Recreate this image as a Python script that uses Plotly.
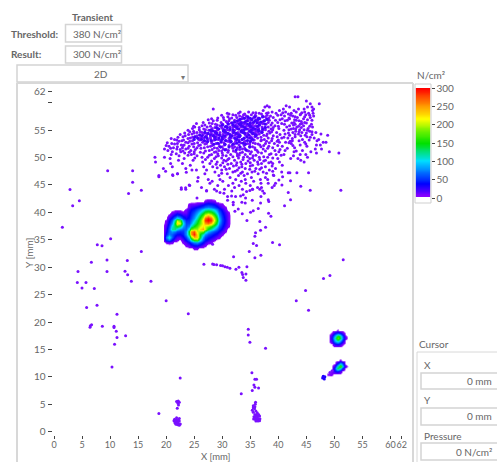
import plotly.graph_objects as go

# ---------- data (mm, N/cm2) ----------
tick_x = [0, 5, 10, 15, 20, 25, 30, 35, 40, 45, 50, 55, 60, 62]
tick_y_vals = [0, 5, 10, 15, 20, 25, 30, 35, 40, 45, 50, 55, 60, 62]
tick_y_text = ["0", "5", "10", "15", "20", "25", "30", "35", "40", "45", "50", "55", "", "62"]
bar_ticks = [0, 50, 100, 150, 200, 250, 300]
bar_levels = [6, 10, 20, 30, 40, 50, 60, 70, 80, 90, 100, 110, 120, 130, 140, 150, 160, 170, 180, 190, 200, 210, 220, 230, 240, 250, 260, 270, 280, 290, 300]

main_x = [19.5, 20, 20.5, 21, 21.5, 22, 22.5, 23, 23.5, 24, 24.5, 25, 25.5, 26, 26.5, 27, 27.5, 28, 28.5, 29, 29.5, 30, 30.5, 31, 31.5, 32]
main_y = [42.5, 42, 41.5, 41, 40.5, 40, 39.5, 39, 38.5, 38, 37.5, 37, 36.5, 36, 35.5, 35, 34.5, 34, 33.5, 33]
main_z = [
[0,0,0,0,0,0,0,0,0,0,0,0,0,0,0,0,0,0,0,0,0,0,0,0,0,0],
[0,0,0,0,0,0,0,0,0,0,0,0,0,0,0,14,20,18,14,0,0,0,0,0,0,0],
[0,0,0,0,0,0,0,0,0,10,14,14,18,26,34,42,48,44,38,26,14,10,0,0,0,0],
[0,0,0,0,0,0,0,0,0,14,26,34,42,50,60,70,76,72,60,46,34,18,10,0,0,0],
[0,0,0,0,0,0,0,0,10,26,38,46,60,76,96,112,120,112,96,72,50,34,14,0,0,0],
[0,0,0,10,18,26,18,10,14,34,46,60,80,104,135,160,172,160,132,95,66,42,26,10,0,0],
[0,0,10,26,42,54,46,30,26,38,52,72,98,135,175,215,240,215,172,122,78,50,30,14,0,0],
[0,0,26,46,80,110,88,52,36,44,60,84,118,160,210,270,295,270,205,145,92,55,34,14,0,0],
[0,10,36,66,130,200,175,85,50,52,70,100,135,175,225,285,300,285,215,150,95,56,36,14,0,0],
[0,14,44,84,150,232,205,105,58,60,85,120,150,185,215,250,265,240,185,130,82,52,32,14,0,0],
[0,22,56,110,135,150,130,84,62,78,120,150,175,205,225,205,185,160,130,95,64,44,26,10,0,0],
[0,30,66,120,125,95,74,64,68,115,180,200,195,230,250,205,145,118,92,66,50,34,14,0,0,0],
[0,34,66,82,72,58,52,54,80,150,255,275,205,190,180,130,92,74,60,48,36,20,10,0,0,0],
[0,46,74,64,48,40,38,48,80,140,250,290,230,150,110,80,60,50,40,32,20,10,0,0,0,0],
[0,70,110,64,32,20,18,34,58,100,175,240,235,140,80,56,44,36,26,14,10,0,0,0,0,0],
[0,46,64,34,14,10,0,18,40,66,105,150,160,100,60,42,30,18,10,0,0,0,0,0,0,0],
[0,8,14,10,0,0,0,10,20,38,54,74,80,60,40,26,14,10,0,0,0,0,0,0,0,0],
[0,0,0,0,0,0,0,0,10,18,30,40,42,32,18,10,0,0,0,0,0,0,0,0,0,0],
[0,0,0,0,0,0,0,0,0,0,0,12,12,0,0,0,0,0,0,0,0,0,0,0,0,0],
[0,0,0,0,0,0,0,0,0,0,0,0,0,0,0,0,0,0,0,0,0,0,0,0,0,0],
]

blob_a_x = [48.5, 49, 49.5, 50, 50.5, 51, 51.5, 52, 52.5]
blob_a_y = [19, 18.5, 18, 17.5, 17, 16.5, 16, 15.5, 15]
blob_a_z = [
[0,0,0,0,0,0,0,0,0],
[0,0,0,0,8,0,0,0,0],
[0,0,8,40,60,50,20,0,0],
[0,0,30,90,160,140,60,8,0],
[0,0,35,110,180,150,65,10,0],
[0,0,25,80,110,85,35,0,0],
[0,0,0,30,40,30,8,0,0],
[0,0,0,0,0,0,0,0,0],
[0,0,0,0,0,0,0,0,0],
]

blob_b_x = [49, 49.5, 50, 50.5, 51, 51.5, 52, 52.5]
blob_b_y = [13.5, 13, 12.5, 12, 11.5, 11, 10.5, 10]
blob_b_z = [
[0,0,0,0,0,0,0,0],
[0,0,0,0,10,0,0,0],
[0,0,0,40,90,60,0,0],
[0,0,25,110,180,100,15,0],
[0,0,50,140,100,40,0,0],
[0,10,30,45,20,0,0,0],
[8,10,0,0,0,0,0,0],
[0,0,0,0,0,0,0,0],
]

cloud_rows = [
(61.1,[43.0,43.5]),(60.3,[45.0]),(59.8,[47.3,45.7]),(59.45,[41.4,38.0]),
(59.2,[37.6,38.4,42.0,45.2,46.0]),(58.85,[28.4,40.9,43.6,44.6,46.3]),(58.55,[42.8,40.2,37.3,46.1]),
(58.3,[33.2,34.7,38.9,41.3,43.2,44.7]),(58.05,[30.9,32.9,36.6,37.9,39.6,42.3,45.4,46.2]),
(57.8,[31.9,33.8,35.2,40.5,43.9,44.9]),(57.55,[33.1,34.3,36.0,37.2,38.6,41.1,42.6,46.3]),
(57.3,[30.2,32.6,35.6,39.1,43.4,45.7]),(57.05,[28.1,31.3,33.5,34.6,36.7,37.9,40.7,42.0,44.5]),
(56.8,[29.1,32.2,35.1,38.4,39.5,41.6,43.2,46.0]),(56.55,[30.7,33.1,34.2,36.2,37.3,44.1]),
(56.3,[27.7,31.6,32.7,35.5,38.9,42.4,45.0]),(56.05,[28.8,30.1,33.9,36.7,37.8,41.1,43.0,43.9,45.9]),
(55.8,[26.4,29.6,32.1,34.8,35.9,39.4,42.0,44.5]),(55.55,[25.1,27.3,30.5,31.4,33.3,37.1,38.2,41.5,43.3,46.1]),
(55.3,[24.7,28.2,29.2,32.6,34.1,35.4,36.5,40.1,42.7,45.3]),(55.05,[25.9,27.0,30.9,33.6,37.7,39.0,41.9,43.8,44.6]),
(54.8,[24.9,28.7,31.9,34.9,36.0,38.3,43.1,45.6]),(54.55,[25.5,26.4,29.6,30.3,32.8,33.9,37.0,39.7,42.6,44.2,46.7]),
(54.3,[24.6,27.3,28.1,31.3,35.4,36.6,38.0,41.2,43.6,47.6]),(54.05,[26.0,29.1,30.7,32.3,34.2,37.4,42.0,44.8,48.8]),
(53.8,[23.0,25.2,27.9,33.1,35.8,39.8,43.0,45.1]),(53.55,[24.3,26.7,28.6,30.0,31.6,34.7,36.3,38.2,40.6,41.7,46.4]),
(53.3,[21.5,25.8,27.4,29.3,32.4,33.5,37.5,44.3,47.2]),(53.05,[22.8,24.7,28.2,30.7,35.1,36.9,38.8,42.5,43.7,46.9]),
(52.8,[23.5,26.5,29.8,31.4,33.9,40.2,41.3,44.7,48.0,48.5]),(52.55,[21.0,22.0,25.0,27.2,28.9,32.2,34.5,35.9,37.7,39.3,42.3]),
(52.3,[22.7,23.2,26.1,30.4,33.0,36.7,43.9,46.8,47.5]),(52.05,[20.5,24.1,27.9,29.5,31.7,34.9,38.3,40.7,45.1]),
(51.8,[21.3,22.9,25.5,26.8,28.6,32.7,35.8,39.0,42.9]),(51.55,[19.7,21.9,23.5,30.2,33.6,37.3,46.6,47.7]),
(51.3,[20.3,24.4,27.7,29.4,31.1,34.4,36.2,39.4,41.2,44.3]),(51.05,[21.1,22.6,25.0,28.9,32.4,35.2,40.1,42.8,45.8,49.1]),
(50.8,[23.3,26.7,30.0,33.2,37.0,50.8,46.8]),(50.55,[20.9,24.5,28.1,31.5,34.1,38.4,39.6,41.0,43.9,44.9]),
(50.3,[22.3,25.5,29.3,30.7,32.7,35.5,42.7]),(50.05,[18.0,19.7,26.4,27.4,33.8,36.6,38.1,45.2]),
(49.8,[20.7,23.2,28.6,31.2,34.9,39.9,42.2,43.5]),(49.5,[22.2,24.8,30.3,32.2,35.7,37.7,44.0]),
(49.2,[18.1,26.5,29.1,33.3,36.3,38.7,40.2,44.6]),(48.9,[20.8,22.9,27.8,31.6,34.2,37.0,39.0]),
(48.6,[24.3,29.7,32.5,35.4,40.7]),(48.3,[21.1,26.7,28.3,30.4,33.5,37.7]),(48.0,[19.5,23.5,31.3,34.1,36.0,39.5]),
(47.7,[24.6,25.4,27.2,29.9,32.7,38.4]),(47.35,[28.7,31.9,33.6,35.3,37.3,40.6]),(47.05,[22.0,26.9,30.9,34.5,36.4]),
(46.7,[18.7,21.2,29.4,32.9,33.9,39.2]),(46.35,[25.7,31.4,35.2,37.7]),(46.0,[27.5,29.6,32.4,34.1,36.8,38.1]),
(45.65,[25.6,28.2,30.1,33.4,35.6]),(45.3,[27.8,31.9,34.2,36.9,38.2,39.5]),(44.9,[24.2,29.2,31.1,33.0,35.0]),
(44.55,[26.3,32.2,36.3,37.0,38.9]),(44.2,[22.7,23.5,28.6,30.4,33.6,35.4]),(43.9,[27.2,29.0,31.7,37.2]),
(58.15,[35.5,36.0,38.2,40.8,44.2]),(57.95,[31.2,34.0,37.0,41.8,44.0]),(57.7,[29.9,32.4,35.9,38.0,39.9,42.2,45.6]),
(57.45,[31.0,33.6,37.7,43.0,44.7]),(57.2,[29.2,31.7,34.1,36.4,38.3,41.9]),(56.9,[27.5,30.3,33.0,36.0,40.3,42.9,45.2]),
(56.7,[28.4,31.2,34.6,37.5,41.2,43.7]),(56.4,[26.6,29.8,30.9,33.5,36.5,38.2,39.9,42.8,44.7]),
(56.2,[25.4,28.2,31.0,34.0,35.0,37.2,40.6,44.2]),(55.95,[26.9,29.1,32.4,33.2,35.4,38.7,42.7]),
(55.7,[24.9,27.9,30.8,32.7,34.3,36.2,40.0,43.6,45.6]),(55.45,[25.9,28.7,29.9,31.9,35.0,37.6,39.1,44.1]),
(55.2,[26.7,30.1,33.0,34.6,36.0,38.7,42.3,43.1]),(54.95,[23.9,27.6,29.1,31.3,32.2,35.5,37.2,41.0,45.2]),
(54.7,[24.2,26.1,28.0,30.5,33.3,36.4,38.8,43.7,46.0]),(54.45,[23.3,25.0,27.0,29.0,31.9,34.5,35.9,38.5,41.8,45.0]),
(54.2,[22.5,24.0,26.6,28.6,30.1,33.1,36.2,40.3,43.0,46.0]),(53.95,[23.4,25.5,27.2,29.6,31.8,34.9,37.9,39.1,44.0]),
(53.7,[22.1,24.7,26.3,28.9,30.5,32.6,35.2,36.9,41.0,45.7]),(53.45,[20.9,23.9,25.9,27.9,30.2,31.2,33.9,38.9,42.5]),
(53.2,[21.9,23.1,26.0,28.6,29.7,33.0,35.7,37.0,40.0,45.5]),(52.95,[22.3,24.2,27.0,31.0,32.4,34.1,37.9,39.8,42.1]),
(52.7,[20.2,23.9,25.6,28.1,30.3,33.3,35.5,38.4,41.9]),(52.45,[21.5,24.6,26.9,29.4,32.0,34.9,36.4,44.9]),
(52.2,[20.0,23.0,25.8,28.2,31.2,33.9,37.4,39.9,42.6]),(51.95,[22.0,24.9,27.4,30.0,32.2,35.4,36.9]),
(51.7,[20.8,23.9,26.2,29.1,31.9,34.0,38.1,41.6]),(51.45,[22.5,25.2,28.2,30.7,33.1,35.9,40.3]),
(51.2,[23.0,27.0,29.9,32.0,34.7,37.7,43.2]),(50.95,[24.1,26.1,28.6,31.0,33.6,36.4]),
(50.7,[21.8,25.0,29.2,32.7,35.0,38.7]),(50.4,[23.9,27.7,30.1,33.0,36.0,40.5]),
(50.15,[28.9,31.9,34.5,37.4]),(49.9,[25.1,29.9,32.9,35.4,39.0]),(49.65,[27.0,31.0,33.7,36.7]),
(49.35,[28.1,30.7,34.6,37.4]),(49.05,[30.1,32.6,35.0,38.3]),(48.75,[28.9,31.0,33.5,36.4]),
(48.45,[32.0,35.0,38.9]),(48.15,[29.1,33.0,37.0]),(47.85,[30.7,34.9,36.7]),(47.5,[32.3,35.8,39.0]),(47.15,[29.9,33.3,37.9]),
]

core_rows = [
(57.4,[34.6,35.8,37.2]),(56.95,[33.2,35.3,36.4,38.0]),(56.45,[32.2,34.0,35.6,36.9]),
(56.1,[31.1,33.0,34.5,37.6]),(55.65,[30.6,32.3,33.7,35.1,36.3]),(55.2,[29.4,31.4,32.9,34.3,35.8,37.2]),
(54.85,[28.3,30.2,33.4,34.9,36.6]),(54.4,[27.5,29.0,31.0,32.5,34.0,35.5]),(53.95,[26.4,28.4,30.4,31.7,33.2,36.0]),
(53.55,[25.6,27.3,29.4,32.2,33.9,35.0]),(53.1,[26.8,28.0,30.6,31.4,34.5]),(52.6,[29.2,32.6,33.7]),
(57.15,[33.9,35.0,36.6]),(56.7,[32.7,34.4,35.9,37.5]),(56.3,[31.8,33.4,35.0,36.2]),(55.9,[30.0,31.9,33.4,34.9,36.6]),
(55.45,[29.0,30.9,32.6,34.0,35.5,37.7]),(55.0,[27.9,30.4,31.9,33.9,35.2,36.4]),(54.6,[26.9,28.8,30.6,32.1,33.6,35.2,37.1]),
(54.15,[26.0,27.9,29.5,31.4,32.9,34.7,35.9]),(53.75,[25.1,27.0,28.7,30.0,31.4,32.9,34.4]),(53.3,[25.0,26.3,28.8,30.0,32.6,33.6,35.4]),
(52.9,[27.4,29.8,31.6,33.0,35.0]),(52.4,[28.5,30.5,31.9,34.1]),(51.9,[29.7,31.2,33.2,34.9]),(51.4,[30.5,32.5,34.2]),
]

sparse_points = [
(2.85,44.17),(3.33,41.19),(4.52,42.1),(1.49,37.3),(7.72,34.07),(8.56,33.9),(10.1,35.2),(15.57,32.86),
(6.66,30.9),(9.45,31.3),(13.07,31.2),(4.28,29.2),(9.45,29.2),(12.66,29.27),(13.13,28.6),(13.79,27.44),
(17.29,27.44),(4.16,27.2),(5.7,27.2),(4.99,26.2),(7.19,26.1),(20.0,23.9),(5.82,22.64),(7.67,23.07),
(11.23,21.4),(23.95,21.5),(6.7,19.5),(6.48,19.3),(6.42,19.05),(8.62,19.23),(10.7,19.23),(10.7,19.0),
(11.1,18.3),(11.23,17.2),(12.77,17.5),(10.8,15.95),(9.57,47.6),(14.02,47.6),(14.02,45.5),(13.3,43.44),
(15.57,44.05),(18.7,46.5),(19.9,47.5),(21.15,46.85),(22.04,47.03),(23.59,47.3),(22.7,44.5),(23.47,44.5),
(24.1,45),(51.57,31.34),(49.2,28.5),(48.06,27.93),(44.86,25.74),(43.2,23.9),(45.39,22.15),(34.64,18.68),
(34.64,17.65),(34.93,16.3),(37.72,15.2),(51.15,44.05),(45.69,44.05),(44.0,44.78),(45.39,47.2),(43.31,47.2),
(41.77,43.6),(42.18,42.3),(41.11,41.19),(41.77,47.2),(42.06,47.2),(42.18,45.75),(40.64,45.0),(39.27,44.9),
(40.1,45.9),(40.76,46.5),(39.09,46.8),(38.68,39.3),(38.26,39.85),(37.73,37.3),(36.83,36.75),(36.7,38.33),
(35.94,36.3),(35.82,35.66),(35.53,34.32),(36.12,33.95),(38.97,34.5),(40.22,34.07),(34.81,32.86),(36.89,32.19),
(35.82,31.7),(32.02,31.9),(26.73,30.55),(28.28,30.6),(28.52,30.5),(29,30.43),(29.7,30.3),(30.06,30.24),
(30.48,30.1),(30.9,30),(31.37,29.8),(32.44,29.63),(32.97,30),(34.4,30.06),(33.5,29.03),(33.63,28.66),
(34.22,28.78),(33.74,28.1),(34.22,27.63),(28.28,34.2),(34.4,38.5),(33.57,39.73),(35.05,40.03),(35.53,40.28),
(36.42,40.7),(32.85,40.6),(32.26,40.2),(38.2,42.3),(38.3,42),(36.83,41.7),(34.1,41.7),(33.5,41.86),
(31.96,41.86),(31.96,41.37),(35.35,42.2),(34.16,42.6),(36.9,42.9),(37.49,43.5),(32.38,42.9),(31.66,43),
(33.27,43),(33.74,43.2),(30.95,42.9),(30.95,42.2),(29.6,43.6),(30.3,43.5),(34.34,43.8),(34.93,44),
(35.4,44.2),(36.7,44.2),(27.2,44),(25.5,42.6),
(10.34,11.8),(22.5,9.8),(18.7,3.34),(22.16,5.6),(21.86,5.5),(22.34,5.35),(22.1,5.17),(22.2,4.86),(21.98,4.3),
(21.86,2.55),(22.34,2.43),(21.5,2.25),(21.86,2.13),(22.16,2.2),(21.39,2.0),(21.68,1.9),(22.04,1.94),(22.34,1.94),
(21.56,1.64),(21.86,1.58),(22.16,1.58),(21.74,1.34),(22.04,1.27),(22.34,1.2),(22.52,1.4),
(35.29,10.76),(35.82,9.55),(36.12,9.55),(35.65,8.5),(35.82,8.09),(36.48,7.97),(35.35,7.5),(33.39,6.93),
(35.94,5.35),(35.88,5),(35.53,4.74),(35.82,4.56),(35.53,4.38),(35.76,4.2),(35.35,3.9),(35.53,3.53),(36,3.77),(36.24,3.46),
(35.82,3.16),(36.12,3),(36.48,3.16),(35.65,2.73),(35.94,2.67),(36.3,2.73),(36.66,2.86),(35.6,2.3),(35.88,2.25),
(36.18,2.25),(36.48,2.3),(36.72,2.37),(36,1.94),(36.36,1.94),(36.66,2),
(49.2,10.8),(49.6,11.1),
]

blue_points = [(47.9,9.8),(48.2,9.6),(48.3,10),(48,10.1)]

# ---------- layout helpers ----------
W, H = 497, 462
L, RIGHT, T, BOTTOM = 52.6, 401.7, 91.7, 435.0
FONT = "Lato"
GREY = "#666666"
def fx(p): return p / W
def fy(p): return 1 - p / H

shapes, notes = [], []
def box(x0, y0, x1, y1, line="#d4d4d4", width=1.5, fill=None):
    shapes.append(dict(type="rect", xref="paper", yref="paper", x0=fx(x0), x1=fx(x1), y0=fy(y1), y1=fy(y0),
                       line=dict(color=line, width=width), fillcolor=fill, layer="above"))
def seg(x0, y0, x1, y1, line="#d8d8d8", width=2):
    shapes.append(dict(type="line", xref="paper", yref="paper", x0=fx(x0), x1=fx(x1), y0=fy(y0), y1=fy(y1),
                       line=dict(color=line, width=width), layer="above"))
def text(t, x, y, anchor="center", size=10, color=GREY, bold=False, angle=0):
    notes.append(dict(text=f"<b>{t}</b>" if bold else t, x=fx(x), y=fy(y), xref="paper", yref="paper", showarrow=False,
                      xanchor=anchor, yanchor="middle", textangle=angle,
                      font=dict(family=FONT, size=size, color=color)))

sup2 = "N/cm\u00b2"
text("Transient", 92, 17, bold=True)
text("Threshold:", 34, 34, bold=True)
text("Result:", 26, 54, bold=True)
box(65.5, 24.5, 121.5, 42)
box(65.5, 46, 121.5, 63)
text("380 " + sup2, 97, 33.5)
text("300 " + sup2, 97, 54.5)
box(17, 65, 188, 82)
text("2D", 101, 74)
text("\u25be", 183, 77, size=8, color="#777777")
seg(17, 83, 413, 83)
seg(17, 83, 17, 462)
seg(413, 83, 413, 462)
text(sup2, 431, 75)
box(415, 84, 431, 203, line="#cfcfcf", width=1)
text("X [mm]", 216, 456.5, size=9.5)
text("Y [mm]", 29, 253, angle=-90)
text("Cursor", 417, 344, anchor="left")
seg(417, 352, 499, 352, line="#d8d8d8", width=1)
seg(417, 352, 417, 462, line="#d8d8d8", width=1)
text("X", 422, 365, anchor="left")
box(421, 373, 499, 389)
text("0 mm", 494, 381, anchor="right")
text("Y", 422, 400, anchor="left")
box(421, 408, 499, 425)
text("0 mm", 494, 416, anchor="right")
text("Pressure", 422, 436, anchor="left")
box(421, 443, 499, 460)
text("0 " + sup2, 494, 452, anchor="right")

# ---------- figure ----------
fig = go.Figure()
for hx, hy, hz in [(main_x, main_y, main_z), (blob_a_x, blob_a_y, blob_a_z), (blob_b_x, blob_b_y, blob_b_z)]:
    fig.add_trace(go.Heatmap(x=hx, y=hy, z=hz, coloraxis="coloraxis", zsmooth="best", hoverinfo="skip"))

cx = [x for y, xs in cloud_rows for x in xs] + [p[0] for p in sparse_points]
cy = [y for y, xs in cloud_rows for x in xs] + [p[1] for p in sparse_points]
fig.add_trace(go.Scatter(x=cx, y=cy, mode="markers", marker=dict(size=3, color="#7a10ff", line=dict(width=0))))
fig.add_trace(go.Scatter(x=[x for y, xs in core_rows for x in xs], y=[y for y, xs in core_rows for x in xs],
                         mode="markers", marker=dict(size=3.2, color="#4400ff", line=dict(width=0))))
fig.add_trace(go.Scatter(x=[p[0] for p in blue_points], y=[p[1] for p in blue_points],
                         mode="markers", marker=dict(size=3, color="#2000ff", line=dict(width=0))))
# colour bar drawn as its own heatmap on its own axes
fig.add_trace(go.Heatmap(x=[0, 1], y=bar_levels, z=[[v, v] for v in bar_levels], coloraxis="coloraxis",
                         zsmooth="best", xaxis="x2", yaxis="y2", hoverinfo="skip"))

scale = [[0, "#ffffff"], [0.012, "#ffffff"], [0.02, "#8a00ff"], [0.13, "#0000ff"], [0.34, "#00e0ff"],
         [0.5, "#00e000"], [0.6, "#60f000"], [0.72, "#ffff00"], [0.85, "#ff9000"], [1, "#ff0000"]]

tick_font = dict(family=FONT, size=10, color=GREY)
fig.update_layout(
    width=W, height=H, margin=dict(l=0, r=0, t=0, b=0, pad=0), autosize=False,
    paper_bgcolor="white", plot_bgcolor="white", showlegend=False,
    font=dict(family=FONT, size=10, color=GREY),
    xaxis=dict(domain=[L / W, RIGHT / W], range=[-0.25, 62], tickmode="array", tickvals=tick_x, ticks="outside",
               ticklen=3, tickwidth=1, tickcolor="#444444", showgrid=False, zeroline=False, showline=False,
               tickfont=dict(family=FONT, size=9, color=GREY), automargin=False, tickangle=0, ticklabelstandoff=-2),
    yaxis=dict(domain=[1 - BOTTOM / H, 1 - T / H], range=[-0.6, 62], tickmode="array", tickvals=tick_y_vals,
               ticktext=tick_y_text, ticks="outside", ticklen=4, tickwidth=1, tickcolor="#444444", showgrid=False,
               zeroline=False, showline=False, tickfont=tick_font, automargin=False),
    xaxis2=dict(domain=[415.5 / W, 430.5 / W], range=[0, 1], anchor="y2", showticklabels=False, ticks="",
                showgrid=False, zeroline=False, showline=False),
    yaxis2=dict(domain=[1 - 198 / H, 1 - 88 / H], range=[0, 300], anchor="x2", side="right", tickmode="array",
                tickvals=bar_ticks, ticks="outside", ticklen=3, tickwidth=1, tickcolor="#444444", showgrid=False,
                zeroline=False, showline=False, tickfont=tick_font, automargin=False),
    coloraxis=dict(cmin=0, cmax=300, colorscale=scale, showscale=False),
    shapes=shapes, annotations=notes,
)
fig.write_html("out.html", config=dict(displayModeBar=False),
               post_script="document.body.style.margin='0';document.body.style.overflow='hidden';")
